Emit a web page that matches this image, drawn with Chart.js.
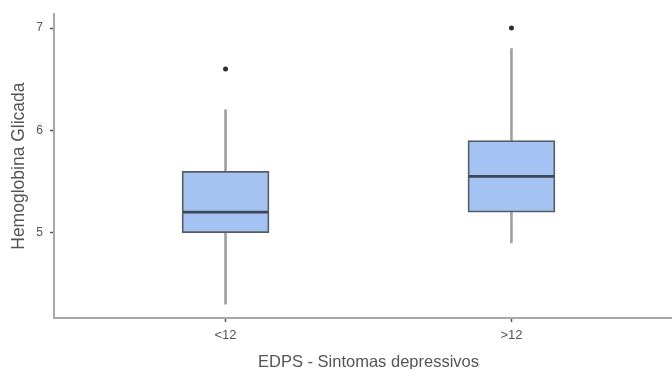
<!DOCTYPE html>
<html>
<head>
<meta charset="utf-8">
<script src="https://cdn.jsdelivr.net/npm/chart.js@4/dist/chart.umd.min.js"></script>
<style>
  html, body { margin: 0; padding: 0; background: #fff; overflow: hidden; }
  #wrap { width: 672px; height: 369px; overflow: hidden; }
</style>
</head>
<body>
<div id="wrap"><canvas id="c" width="700" height="369"></canvas></div>
<script>
// ---- data ----
const categories   = ['<12', '>12'];
const xPositions   = [1, 2];
const whiskerLow   = [4.3, 4.9];
const q1           = [5.0, 5.2];
const median       = [5.2, 5.55];
const q3           = [5.6, 5.9];
const whiskerHigh  = [6.2, 6.8];
const outliers     = [[6.6], [7.0]];
const yTickValues  = [5, 6, 7];
const yRange       = [4.165, 7.136];
const xRange       = [0.4, 2.6];

const FONT = "'Liberation Sans', Arial, sans-serif";
const BOX_W = 87;

const lowData  = xPositions.map((x, i) => ({ x, y: [whiskerLow[i], q1[i]] }));
const highData = xPositions.map((x, i) => ({ x, y: [q3[i], whiskerHigh[i]] }));
const boxData  = xPositions.map((x, i) => ({ x, y: [q1[i], q3[i]] }));
const medData  = xPositions.map((x, i) => ({ x, y: median[i] }));
const outData  = [];
xPositions.forEach((x, i) => outliers[i].forEach(v => outData.push({ x, y: v })));

new Chart(document.getElementById('c'), {
  type: 'bar',
  data: {
    datasets: [
      { type: 'scatter', data: outData, pointRadius: 2.5, pointBackgroundColor: '#2e2e2e',
        pointBorderWidth: 0, order: 0 },
      { type: 'scatter', data: medData, pointStyle: 'line', pointRadius: BOX_W / 2 - 1,
        pointBorderColor: '#3d4657', pointBorderWidth: 2.8, order: 1 },
      { data: boxData, barThickness: BOX_W, backgroundColor: '#a5c3f2',
        borderColor: '#585c63', borderWidth: 1.8, borderSkipped: false, grouped: false, order: 2 },
      { data: lowData, barThickness: 2, backgroundColor: '#a0a0a0', borderWidth: 0,
        grouped: false, order: 3 },
      { data: highData, barThickness: 2, backgroundColor: '#a0a0a0', borderWidth: 0,
        grouped: false, order: 3 }
    ]
  },
  options: {
    responsive: false,
    animation: false,
    events: [],
    layout: { autoPadding: false, padding: { top: 12, right: 17, left: 0, bottom: 0 } },
    plugins: { legend: { display: false }, tooltip: { enabled: false } },
    scales: {
      x: {
        type: 'linear',
        offset: false,
        min: xRange[0], max: xRange[1],
        afterBuildTicks: s => { s.ticks = xPositions.map(v => ({ value: v })); },
        afterFit: s => { s.height = 51; },
        ticks: {
          callback: v => categories[xPositions.indexOf(v)] ?? '',
          color: '#555', font: { family: FONT, size: 13 }, padding: 6, maxRotation: 0
        },
        grid: { offset: false, drawOnChartArea: false, drawTicks: true, tickLength: 4, color: '#555', tickWidth: 1.5 },
        border: { display: true, color: '#a8a8a8', width: 2 },
        title: { display: true, text: 'EDPS - Sintomas depressivos', color: '#555',
                 font: { family: FONT, size: 16.5 }, padding: { top: 0, bottom: -3 } }
      },
      y: {
        min: yRange[0], max: yRange[1],
        afterBuildTicks: s => { s.ticks = yTickValues.map(v => ({ value: v })); },
        afterFit: s => { s.width = 54; },
        ticks: { color: '#555', font: { family: FONT, size: 12 }, padding: 7 },
        grid: { drawOnChartArea: false, drawTicks: true, tickLength: 4, color: '#555', tickWidth: 1.5 },
        border: { display: true, color: '#a8a8a8', width: 2 },
        title: { display: true, text: 'Hemoglobina Glicada', color: '#555',
                 font: { family: FONT, size: 17.5 }, padding: { top: 9, bottom: 0 } }
      }
    }
  }
});
</script>
</body>
</html>
